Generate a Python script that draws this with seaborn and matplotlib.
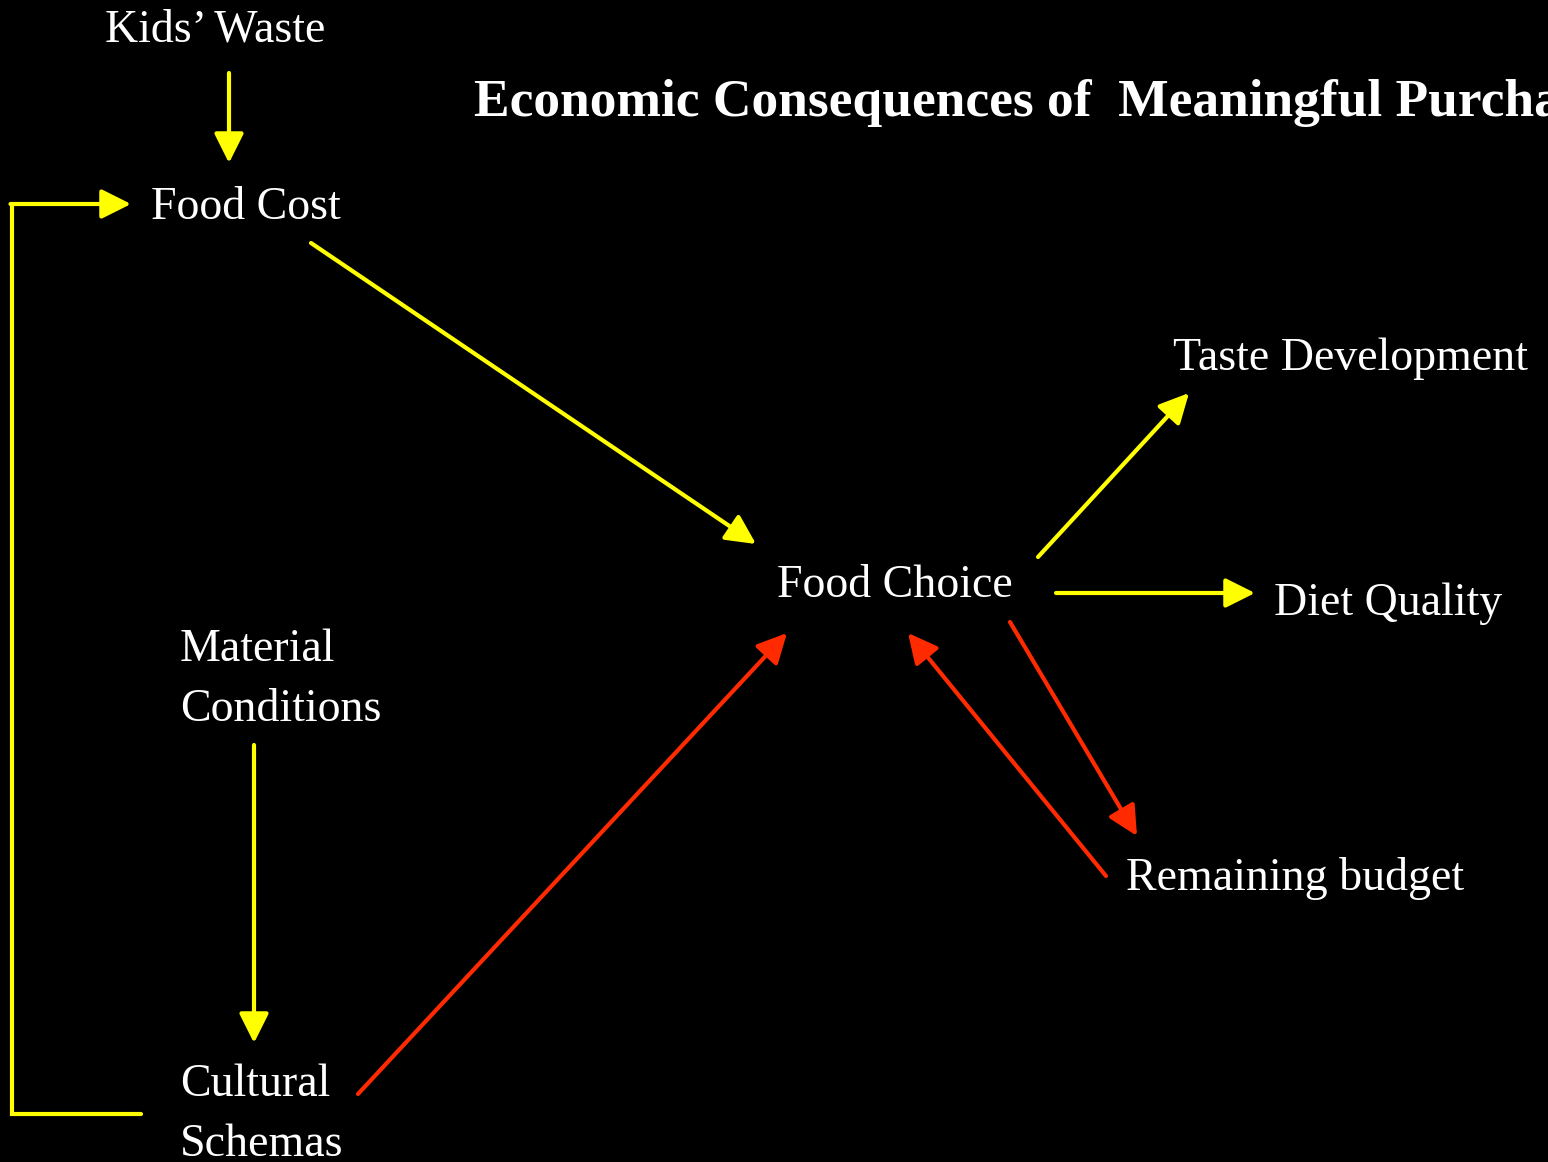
import matplotlib.pyplot as plt
import seaborn as sns

sns.set_theme(style="white", rc={"axes.facecolor": "black", "figure.facecolor": "black"})
plt.rcParams['font.family'] = ['Liberation Serif', 'DejaVu Serif']

title = "Economic Consequences of  Meaningful Purchases"
labels = ["Kids\u2019 Waste", "Food Cost", "Taste Development", "Food Choice", "Diet Quality",
          "Material\nConditions", "Cultural\nSchemas", "Remaining budget"]
# where each label sits (left x, last-line baseline y) in pixel space
label_pos = [(105, 42), (151, 219), (1173, 370), (777, 597), (1274, 615),
             (180, 721), (180, 1156), (1126, 890)]

# arrows: start, end, colour
arrow_start = [(229, 73), (311, 243), (254, 745), (358, 1094), (1038, 557), (1056, 593), (1010, 622), (1106, 876)]
arrow_end = [(229, 163), (756, 544), (254, 1043), (787, 633), (1189, 393), (1255, 593), (1137, 836), (908, 633)]
arrow_col = ["y", "y", "y", "r", "y", "y", "r", "r"]
# feedback loop from Cultural Schemas back to Food Cost
loop_x = [141, 12, 12, 131]
loop_y = [1114, 1114, 204, 204]

colors = {"y": "#FFFF00", "r": "#FF2A00"}

fig = plt.figure(figsize=(15.48, 11.62), dpi=100)
ax = fig.add_axes([0, 0, 1, 1])
ax.set_xlim(0, 1548)
ax.set_ylim(1162, 0)
ax.axis("off")

style = "-|>,head_length=0.9,head_width=0.45"
for s, e, c in zip(arrow_start, arrow_end, arrow_col):
    ax.annotate("", xy=e, xytext=s,
                arrowprops=dict(arrowstyle=style, color=colors[c], lw=3,
                                shrinkA=0, shrinkB=0, mutation_scale=20))

ax.plot(loop_x[:3], loop_y[:3], color=colors["y"], lw=3, solid_joinstyle="miter")
ax.annotate("", xy=(loop_x[3], loop_y[3]), xytext=(loop_x[2] - 1.5, loop_y[2]),
            arrowprops=dict(arrowstyle=style, color=colors["y"], lw=3,
                            shrinkA=0, shrinkB=0, mutation_scale=20))

for t, (x, y) in zip(labels, label_pos):
    ax.text(x, y, t, color="white", fontsize=33, ha="left", va="baseline", linespacing=1.55)

ax.text(474, 116, title, color="white", fontsize=38.5, fontweight="bold", ha="left", va="baseline")

fig.savefig("out.png", dpi=100, facecolor="black")
